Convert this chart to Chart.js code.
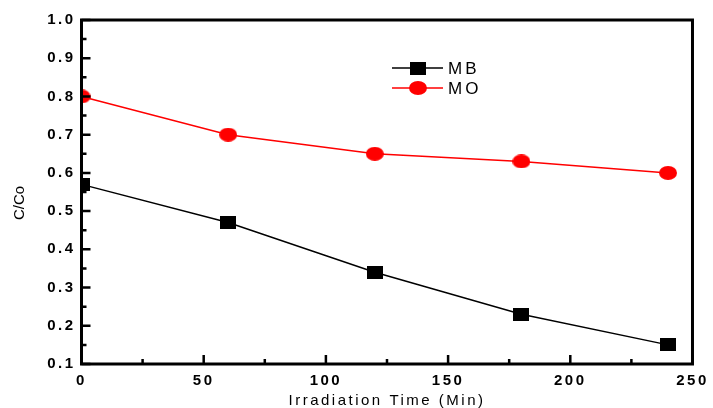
<!DOCTYPE html>
<html>
<head>
<meta charset="utf-8">
<script src="https://cdn.jsdelivr.net/npm/chart.js@4/dist/chart.umd.min.js"></script>
<style>
  html, body { margin: 0; padding: 0; background: #fff; }
  #wrap { width: 713px; height: 408px; position: relative; }
</style>
</head>
<body>
<div id="wrap"><canvas id="c" width="713" height="408"></canvas></div>
<script>
// ---- data ----
const times = [0, 60, 120, 180, 240];
const mbValues = [0.57, 0.47, 0.34, 0.23, 0.15];
const moValues = [0.80, 0.70, 0.65, 0.63, 0.60];
const seriesLabels = ['MB', 'MO'];
const xTickValues = [0, 50, 100, 150, 200, 250];
const yTickLabels = ['0.1', '0.2', '0.3', '0.4', '0.5', '0.6', '0.7', '0.8', '0.9', '1.0'];
const xTitle = 'Irradiation Time (Min)';
const yTitle = 'C/Co';

function makeMarker(shape, w, h, color) {
  const c = document.createElement('canvas');
  c.width = w; c.height = h;
  const g = c.getContext('2d');
  g.fillStyle = color;
  if (shape === 'ellipse') {
    g.beginPath();
    g.ellipse(w / 2, h / 2, w / 2, h / 2, 0, 0, Math.PI * 2);
    g.fill();
  } else {
    g.fillRect(0, 0, w, h);
  }
  return c;
}
const squareMarker = makeMarker('rect', 16, 13, '#000000');
const circleMarker = makeMarker('ellipse', 18, 14, '#ff0000');

const FONT = "'Liberation Sans', Arial, sans-serif";

const framePlugin = {
  id: 'frame',
  beforeDraw(chart) {
    chart.ctx.letterSpacing = '2.5px';
  },
  beforeDatasetsDraw(chart) {
    const ctx = chart.ctx;
    const a = chart.chartArea;
    ctx.save();
    ctx.beginPath();
    ctx.rect(a.left, a.top, a.right - a.left, a.bottom - a.top);
    ctx.clip();
  },
  afterDatasetsDraw(chart) {
    const ctx = chart.ctx;
    ctx.restore();
    const a = chart.chartArea;
    const xs = chart.scales.x, ys = chart.scales.y;
    ctx.save();
    ctx.strokeStyle = '#000';
    // inward ticks
    ctx.lineWidth = 2.5;
    const yt = ys.ticks.map(t => t.value);
    ctx.beginPath();
    for (let i = 0; i < yt.length; i++) {
      const py = ys.getPixelForValue(yt[i]);
      ctx.moveTo(a.left, py); ctx.lineTo(a.left + 9, py);
      if (i < yt.length - 1) {
        const pm = ys.getPixelForValue((yt[i] + yt[i + 1]) / 2);
        ctx.moveTo(a.left, pm); ctx.lineTo(a.left + 5, pm);
      }
    }
    const xt = xs.ticks.map(t => t.value);
    for (let i = 0; i < xt.length; i++) {
      const px = xs.getPixelForValue(xt[i]);
      ctx.moveTo(px, a.bottom); ctx.lineTo(px, a.bottom - 9);
      if (i < xt.length - 1) {
        const pm = xs.getPixelForValue((xt[i] + xt[i + 1]) / 2);
        ctx.moveTo(pm, a.bottom); ctx.lineTo(pm, a.bottom - 5);
      }
    }
    ctx.stroke();
    // frame
    ctx.lineWidth = 3;
    ctx.strokeRect(a.left, a.top, a.right - a.left, a.bottom - a.top);
    ctx.restore();
  },
  afterDraw(chart) {
    const ctx = chart.ctx;
    // y title
    ctx.save();
    ctx.letterSpacing = '0px';
    ctx.fillStyle = '#000';
    ctx.font = '15px ' + FONT;
    ctx.textAlign = 'center';
    ctx.textBaseline = 'middle';
    ctx.translate(20, 203);
    ctx.rotate(-Math.PI / 2);
    ctx.fillText(yTitle, 0, 0);
    ctx.restore();
    // legend
    ctx.save();
    ctx.letterSpacing = '3px';
    ctx.font = '17px ' + FONT;
    ctx.textAlign = 'left';
    ctx.textBaseline = 'middle';
    chart.data.datasets.forEach((ds, i) => {
      const y = 68 + i * 20;
      ctx.strokeStyle = ds.borderColor;
      ctx.lineWidth = 1.5;
      ctx.beginPath();
      ctx.moveTo(392, y); ctx.lineTo(443, y);
      ctx.stroke();
      const m = ds.pointStyle;
      ctx.drawImage(m, 418 - m.width / 2, y - m.height / 2);
      ctx.fillStyle = '#000';
      ctx.fillText(ds.label, 448, y + 1);
    });
    ctx.restore();
  }
};

new Chart(document.getElementById('c'), {
  type: 'line',
  data: {
    datasets: [
      {
        label: seriesLabels[0],
        data: times.map((t, i) => ({ x: t, y: mbValues[i] })),
        borderColor: '#000000',
        backgroundColor: '#000000',
        borderWidth: 1.5,
        pointStyle: squareMarker,
        clip: 0
      },
      {
        label: seriesLabels[1],
        data: times.map((t, i) => ({ x: t, y: moValues[i] })),
        borderColor: '#ff0000',
        backgroundColor: '#ff0000',
        borderWidth: 1.5,
        pointStyle: circleMarker,
        clip: 0
      }
    ]
  },
  options: {
    responsive: false,
    animation: false,
    devicePixelRatio: 1,
    layout: { padding: { top: 20, right: 15.5, left: 0, bottom: 0 } },
    plugins: { legend: { display: false }, tooltip: { enabled: false } },
    scales: {
      x: {
        type: 'linear',
        min: 0, max: 250,
        afterFit(s) { s.height = 44; },
        afterBuildTicks(s) { s.ticks = xTickValues.map(v => ({ value: v })); },
        grid: { display: false, drawTicks: false },
        border: { display: false },
        ticks: {
          autoSkip: false, maxRotation: 0,
          color: '#000',
          padding: 8,
          font: { family: FONT, size: 15, weight: 'bold' },
          callback: v => String(v)
        },
        title: {
          display: true, text: xTitle, color: '#000',
          font: { family: FONT, size: 15, lineHeight: 1 },
          padding: { top: 0, bottom: 0 }
        }
      },
      y: {
        type: 'linear',
        min: 0.1, max: 1.0,
        afterFit(s) { s.width = 81.5; },
        afterBuildTicks(s) { s.ticks = yTickLabels.map(l => ({ value: parseFloat(l) })); },
        grid: { display: false, drawTicks: false },
        border: { display: false },
        ticks: {
          autoSkip: false,
          color: '#000',
          padding: 6,
          font: { family: FONT, size: 15, weight: 'bold' },
          callback: (v, i) => yTickLabels[i]
        }
      }
    }
  },
  plugins: [framePlugin]
});
</script>
</body>
</html>
